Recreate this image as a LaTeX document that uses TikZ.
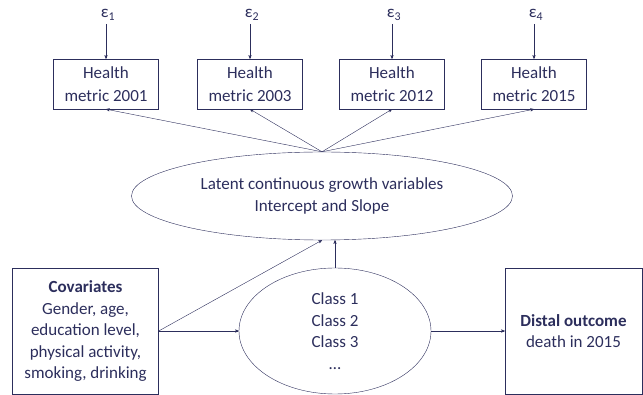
\documentclass[tikz,border=0pt]{standalone}
\usepackage{fontspec}
\setmainfont{Carlito}
\usepackage{tikz}
\usetikzlibrary{shapes,arrows,calc}
\definecolor{navy}{RGB}{44,46,92}

\begin{document}
\begin{tikzpicture}[x=1pt,y=-1pt,font=\fontsize{17}{21.5}\selectfont,
  box/.style={draw=navy,thin,text=navy,align=center,inner sep=0pt},
  link/.style={->,navy,thin,>=stealth'}]
  \useasboundingbox (0,0) rectangle (643,395);
  % health metrics and their errors
  \foreach[count=\i] \x/\y in {106/2001,250/2003,392/2012,534/2015} {
    \node[box,minimum width=105,minimum height=50,
      font=\fontsize{17}{23}\selectfont] (h\i) at (\x,84)
    {Health\\metric \y};
    \node[text=navy] (e\i) at (\x+2,15) {ε\textsubscript{\i}};
    \draw[link] (e\i.south -| h\i.north) -- (h\i.north); }
  \node[box,ellipse,minimum width=381,minimum height=88] (latent) at (322,196)
  {Latent continuous growth variables\\Intercept and Slope};
  \foreach \i in {1,...,4}
  \draw[link] (latent.north) -- (h\i.south);
  % lower row
  \node[box,minimum width=146,minimum height=126] (cov) at (85.5,331)
  {\textbf{Covariates}\\Gender, age,\\education level,\\physical activity,\\smoking, drinking};
  \node[box,ellipse,minimum width=192,minimum height=126] (class) at (335,331)
  {Class 1\\Class 2\\Class 3\\…};
  \node[box,minimum width=137,minimum height=126] (dist) at (573.5,331)
  {\textbf{Distal outcome}\\death in 2015};
  \draw[link] (cov.east) -- (class.west);
  \draw[link] (cov.east) -- (latent.south);
  \draw[link] (class.north) -- (latent.south -| class.north);
  \draw[link] (class.east) -- (dist.west);
\end{tikzpicture}
\end{document}
